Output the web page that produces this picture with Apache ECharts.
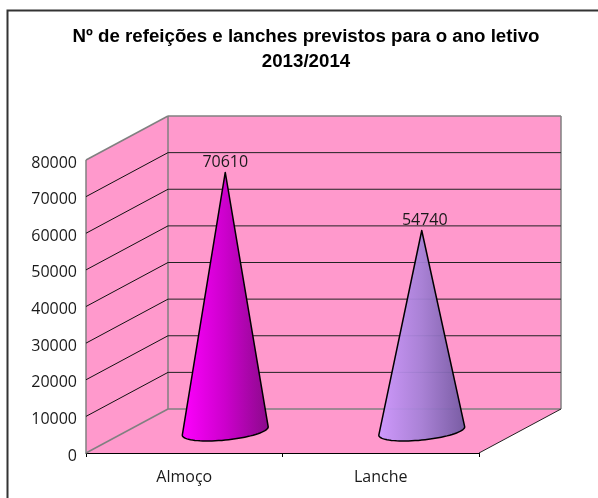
<!DOCTYPE html>
<html><head><meta charset="utf-8">
<style>html,body{margin:0;padding:0;background:#fff;overflow:hidden}#c{width:598px;height:498px}</style>
<script src="https://cdn.jsdelivr.net/npm/echarts@6/dist/echarts.min.js"></script>
</head><body><div id="c"></div>
<script>
const categories = ['Almoço', 'Lanche'];
const values = [70610, 54740];
const yTicks = [10000, 20000, 30000, 40000, 50000, 60000, 70000];
const yMax = 80000;
const titleText = 'Nº de refeições e lanches previstos para o ano letivo\n2013/2014';

const DX = 82, DY = -44, WALL = '#FF99CC', EDGE = '#808080', LABEL = '#1a1a1a';
const coneColors = [
  [[0, '#FF00FF'], [0.5, '#CC00CC'], [1, '#8A0A8A']],
  [[0, 'rgba(204,153,255,0.94)'], [0.5, 'rgba(164,128,214,0.94)'], [1, 'rgba(112,88,160,0.94)']]
];

function poly(points, style) {
  return { type: 'polygon', shape: { points }, style };
}
function line(a, b, stroke, w) {
  return { type: 'line', shape: { x1: a[0], y1: a[1], x2: b[0], y2: b[1] }, style: { stroke, lineWidth: w, fill: null } };
}

function renderWalls(params, api) {
  const f0 = api.coord([0, 0]), top = api.coord([0, yMax]);
  const s = api.size([1, 0]);
  const L = f0[0] - s[0] / 2, B = f0[1], T = top[1], R = L + 2 * s[0];
  const fill = { fill: WALL };
  return { type: 'group', children: [
    poly([[L, B], [R, B], [R + DX, B + DY], [L + DX, B + DY]], fill),
    poly([[L, B], [L + DX, B + DY], [L + DX, T + DY], [L, T]], fill),
    poly([[L + DX, B + DY], [R + DX, B + DY], [R + DX, T + DY], [L + DX, T + DY]], fill),
    line([L, B], [L + DX, B + DY], EDGE, 1.5),
    line([L, B], [L, T], EDGE, 1.5),
    line([L, T], [L + DX, T + DY], EDGE, 1.5),
    line([L + DX, T + DY], [R + DX, T + DY], EDGE, 1.5),
    line([L + DX, T + DY], [L + DX, B + DY], EDGE, 1.5),
    line([R + DX, T + DY], [R + DX, B + DY], EDGE, 1.5),
    line([L + DX, B + DY], [R + DX, B + DY], EDGE, 1.5),
    line([R, B], [R + DX, B + DY], '#222', 1)
  ] };
}

function renderGrid(params, api) {
  const p = api.coord([0, api.value(1)]);
  const s = api.size([1, 0]);
  const L = api.coord([0, 0])[0] - s[0] / 2, R = L + 2 * s[0];
  const y = p[1];
  return { type: 'group', children: [
    line([L, y], [L + DX, y + DY], '#111', 1),
    line([L + DX, y + DY], [R + DX, y + DY], '#222', 1)
  ] };
}

function renderCone(params, api) {
  const i = api.value(0), v = api.value(1);
  const base = api.coord([i, 0]), tip = api.coord([i, v]);
  const cx = base[0] + DX / 2, cy = base[1] + DY / 2;
  const ax = 39, ex = 18, ey = -10;
  const t0 = Math.atan2(ex, ax);
  const pts = [[cx, tip[1] + DY / 2]];
  for (let k = 0; k <= 40; k++) {
    const t = Math.PI + t0 + (k / 40) * Math.PI;
    pts.push([cx + Math.cos(t) * ax + Math.sin(t) * ex, cy + Math.sin(t) * ey]);
  }
  const cols = coneColors[i];
  return { type: 'group', children: [
    poly(pts, {
      fill: new echarts.graphic.LinearGradient(0, 0, 1, 0, cols.map(c => ({ offset: c[0], color: c[1] }))),
      stroke: '#000', lineWidth: 1.5, lineJoin: 'round'
    }),
    { type: 'text', style: {
        x: cx + (i === 1 ? 3 : 0), y: tip[1] + DY / 2 - 2, text: String(v), align: 'center', verticalAlign: 'bottom',
        fill: LABEL, font: '16px "Open Sans"'
    } }
  ] };
}

const chart = echarts.init(document.getElementById('c'), null, { renderer: 'canvas' });
chart.setOption({
  animation: false,
  backgroundColor: '#fff',
  title: { text: titleText, left: 301, top: 19, textAlign: 'center',
    textStyle: { fontFamily: 'Liberation Sans', fontWeight: 'bold', fontSize: 18.7, lineHeight: 25, color: '#000' } },
  graphic: [{ type: 'rect', z: -10, shape: { x: 7.5, y: 10.5, width: 800, height: 800 }, style: { fill: 'none', stroke: '#333', lineWidth: 2 } }],
  grid: { left: 86, top: 160, width: 393, height: 293 },
  xAxis: { type: 'category', data: categories,
    axisLine: { lineStyle: { color: '#000', width: 1 } },
    axisTick: { show: true, length: 4, lineStyle: { color: '#000' } },
    axisLabel: { color: LABEL, fontFamily: 'Open Sans', fontSize: 16, margin: 16 } },
  yAxis: { type: 'value', min: 0, max: yMax, interval: 10000, splitLine: { show: false },
    axisLine: { show: false }, axisTick: { show: false },
    axisLabel: { color: LABEL, fontFamily: 'Open Sans', fontSize: 16, margin: 9, verticalAlign: 'top', lineHeight: 6, formatter: v => String(v) } },
  series: [
    { type: 'custom', silent: true, clip: false, z: 1, renderItem: renderWalls, data: [[0, yMax]] },
    { type: 'custom', silent: true, clip: false, z: 2, renderItem: renderGrid, data: yTicks.map(t => [0, t]) },
    { type: 'custom', silent: true, clip: false, z: 3, renderItem: renderCone, data: values.map((v, i) => [i, v]) }
  ]
});
</script></body></html>
